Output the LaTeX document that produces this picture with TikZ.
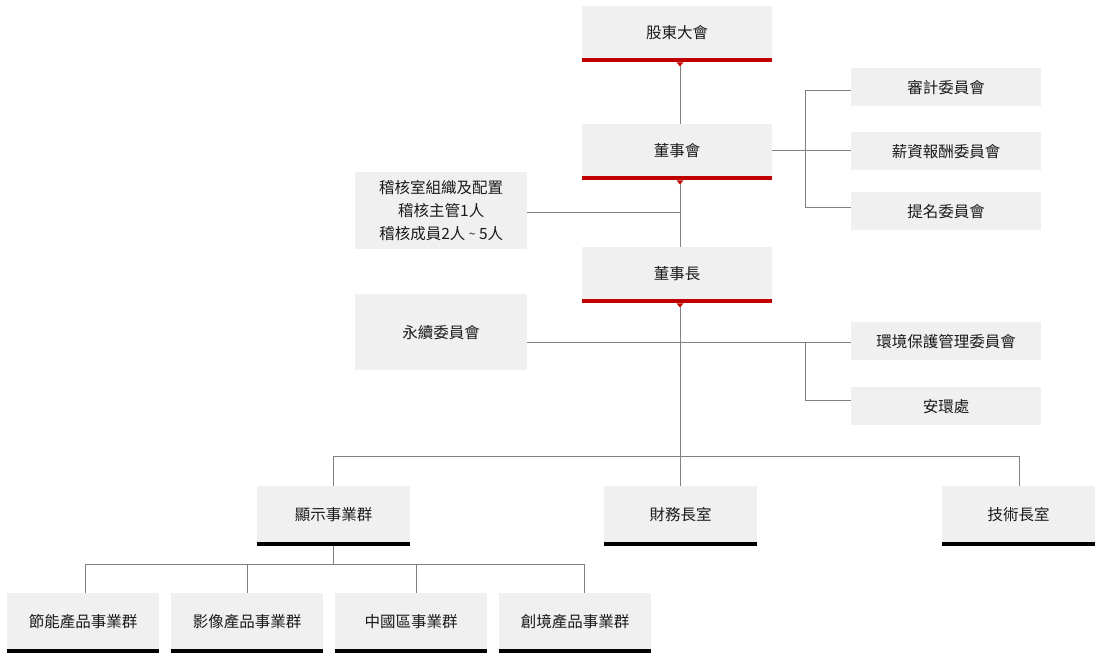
\documentclass[tikz,border=0pt]{standalone}
\usepackage{fontspec}
\setmainfont{Noto Sans CJK TC}
\definecolor{boxgray}{HTML}{F0F0F0}
\definecolor{barred}{HTML}{C00000}
\definecolor{linegray}{HTML}{808080}
\definecolor{txt}{HTML}{1A1A1A}
\begin{document}
\begin{tikzpicture}[x=1pt,y=1pt,
  gbox/.style={fill=boxgray, anchor=north west, inner sep=0pt, text=txt,
    font=\fontsize{15.5}{23}\selectfont, align=center},
  topbox/.style={gbox, minimum width=190pt, minimum height=52pt},
  sidebox/.style={gbox, minimum width=190pt, minimum height=38pt},
  leftbox/.style={gbox, minimum width=172pt, minimum height=77pt},
  unitbox/.style={gbox, minimum width=153pt, minimum height=56pt},
  subbox/.style={gbox, minimum width=152pt, minimum height=56pt},
  conn/.style={draw=linegray, line width=0.9pt}]
\useasboundingbox (0,0) rectangle (1100,-657);
% top chain
\node[topbox] (sh) at (582,-6) {股東大會};
\node[topbox] (bd) at (582,-124) {董事會};
\node[topbox] (ch) at (582,-247) {董事長};
% left boxes
\node[leftbox] (au) at (355,-172) {稽核室組織及配置\\稽核主管1人\\稽核成員2人 \raisebox{0.15ex}{\fontsize{12}{12}\selectfont\textasciitilde} 5人};
\node[leftbox, minimum height=76pt] (su) at (355,-294) {永續委員會};
% right committees
\node[sidebox] (c1) at (851,-68) {審計委員會};
\node[sidebox] (c2) at (851,-132) {薪資報酬委員會};
\node[sidebox] (c3) at (851,-192) {提名委員會};
\node[sidebox] (e1) at (851,-322) {環境保護管理委員會};
\node[sidebox] (e2) at (851,-387) {安環處};
% units
\node[unitbox] (dp) at (257,-486) {顯示事業群};
\node[unitbox] (cf) at (604,-486) {財務長室};
\node[unitbox] (ct) at (942,-486) {技術長室};
% sub units
\node[subbox] (b1) at (7,-593) {節能產品事業群};
\node[subbox] (b2) at (171,-593) {影像產品事業群};
\node[subbox] (b3) at (335,-593) {中國區事業群};
\node[subbox] (b4) at (499,-593) {創境產品事業群};
% spine of the chart
\coordinate (sp) at (680,0);
% bars
\foreach \n in {sh,bd,ch} {
  \fill[barred] (\n.south west) rectangle ([yshift=-4pt]\n.south east);
  \fill[barred] ([xshift=-3.5pt,yshift=-3.9pt]sp |- \n.south) -- ([xshift=3.5pt,yshift=-3.9pt]sp |- \n.south) -- ([yshift=-8pt]sp |- \n.south) -- cycle;
}
\foreach \n in {dp,cf,ct,b1,b2,b3,b4} {
  \fill[black] (\n.south west) rectangle ([yshift=-4pt]\n.south east);
}
% connectors
\draw[conn] ([yshift=-8pt]sp |- sh.south) -- (sp |- bd.north);
\draw[conn] ([yshift=-8pt]sp |- bd.south) -- (sp |- ch.north);
\draw[conn] ([yshift=-2pt]au.east) -- ([yshift=-2pt]au.east -| sp);
\draw[conn] ([yshift=-8pt]sp |- ch.south) -- (sp |- cf.north);
% board committees
\coordinate (k1) at (805,-90);
\coordinate (k3) at (805,-207);
\draw[conn] (bd.east) -- (bd.east -| c2.west);
\draw[conn] (k1) -- (k1 -| c1.west);
\draw[conn] (k1) -- (k3) -- (k3 -| c3.west);
% sustainability
\coordinate (s1) at (805,-342);
\coordinate (s2) at (805,-400);
\draw[conn] (s1 -| su.east) -- (s1 -| e1.west);
\draw[conn] (s1) -- (s2) -- (s2 -| e2.west);
% unit bus
\coordinate (u1) at (333,-456);
\coordinate (u3) at (1019,-456);
\draw[conn] (u1) -- (u3);
\draw[conn] (u1) -- (u1 |- dp.north);
\draw[conn] (u3) -- (u3 |- ct.north);
% sub-unit bus
\coordinate (d1) at (85,-564);
\coordinate (d2) at (247,-564);
\coordinate (d3) at (416,-564);
\coordinate (d4) at (584,-564);
\draw[conn] ([yshift=-4pt]u1 |- dp.south) -- (u1 |- d1);
\draw[conn] (d1) -- (d4);
\draw[conn] (d1) -- (d1 |- b1.north);
\draw[conn] (d2) -- (d2 |- b2.north);
\draw[conn] (d3) -- (d3 |- b3.north);
\draw[conn] (d4) -- (d4 |- b4.north);
\end{tikzpicture}
\end{document}
